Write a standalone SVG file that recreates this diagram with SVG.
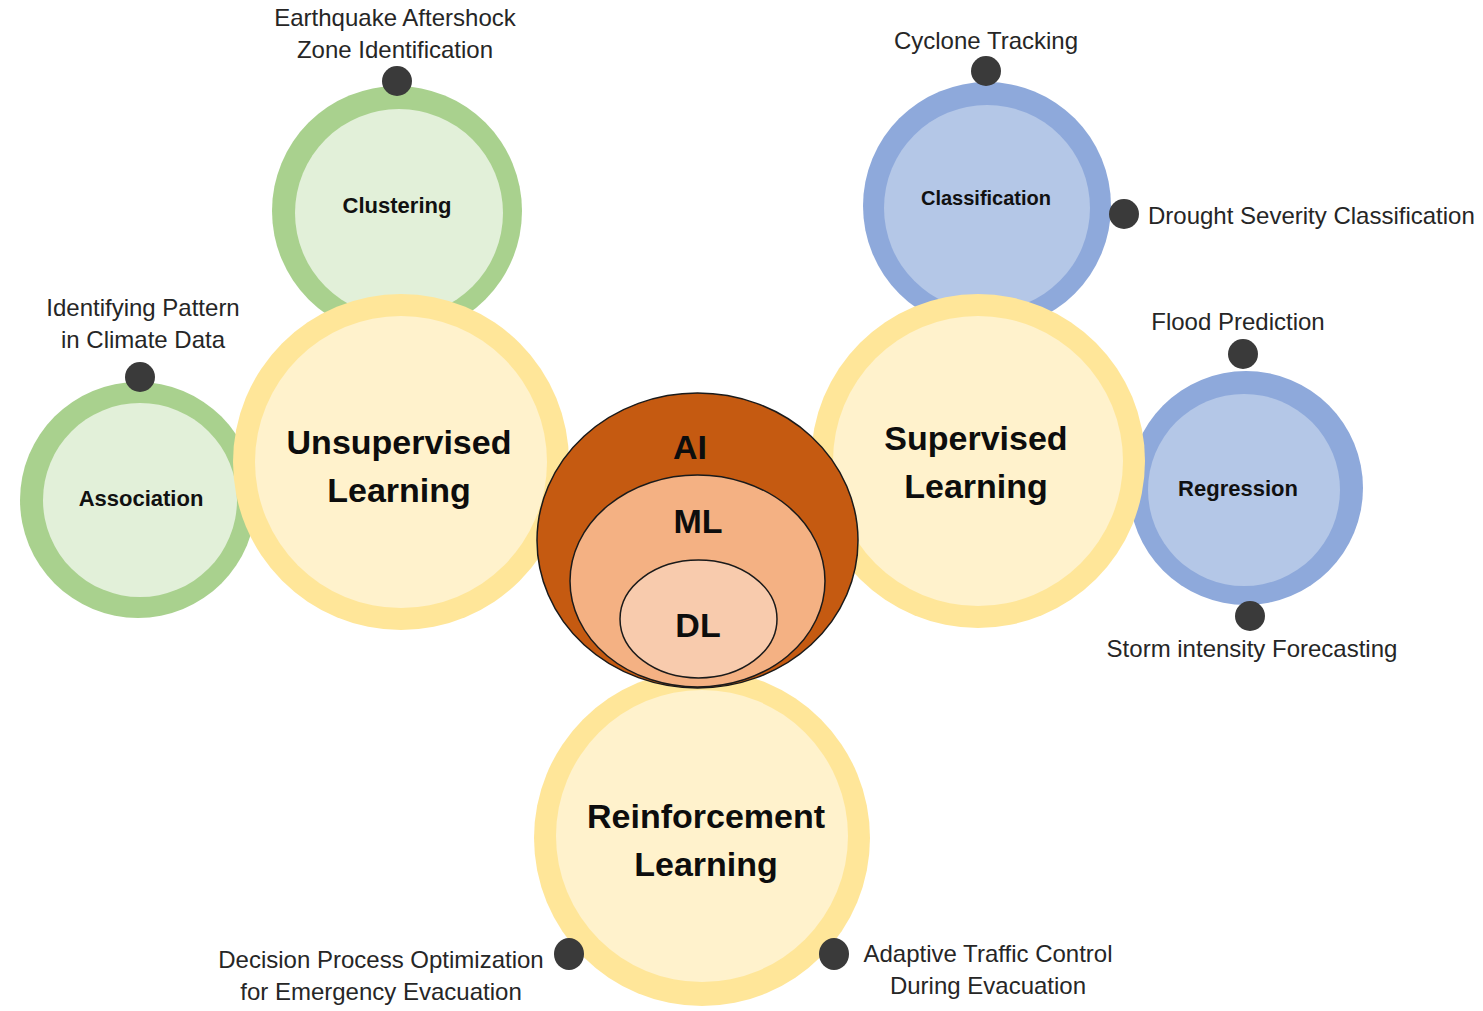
<svg xmlns="http://www.w3.org/2000/svg" width="1483" height="1011" viewBox="0 0 1483 1011">
<style>
.bg{fill:#ffffff}
.g-out{fill:#A9D18E}
.g-in{fill:#E2F0D9}
.b-out{fill:#8EA9DB}
.b-in{fill:#B4C7E7}
.y-out{fill:#FFE699}
.y-in{fill:#FFF2CC}
.dot{fill:#3A3A3A}
.lbl{font-family:"Liberation Sans",Arial,sans-serif;font-size:24px;fill:#262626;text-anchor:middle}
.sub{font-family:"Liberation Sans",Arial,sans-serif;font-size:22px;font-weight:bold;fill:#111111;text-anchor:middle}
.title{font-family:"Liberation Sans",Arial,sans-serif;font-size:34px;font-weight:bold;fill:#0D0D0D;text-anchor:middle}
.core{stroke:#1a1a1a;stroke-width:1.5}
</style>
<rect class="bg" x="0" y="0" width="1483" height="1011"/>

<g id="clustering">
  <circle class="g-out" cx="397" cy="211" r="125"/>
  <circle class="g-in" cx="399" cy="213" r="104"/>
  <text class="sub" x="397" y="213">Clustering</text>
</g>
<g id="association">
  <circle class="g-out" cx="138" cy="500" r="118"/>
  <circle class="g-in" cx="140" cy="500" r="97"/>
  <text class="sub" x="141" y="506">Association</text>
</g>
<g id="classification">
  <circle class="b-out" cx="987" cy="206" r="124"/>
  <circle class="b-in" cx="987" cy="208" r="103"/>
  <text class="sub" x="986" y="205" style="font-size:20px">Classification</text>
</g>
<g id="regression">
  <circle class="b-out" cx="1246" cy="488" r="117"/>
  <circle class="b-in" cx="1244" cy="490" r="96"/>
  <text class="sub" x="1238" y="496">Regression</text>
</g>

<g id="unsupervised">
  <circle class="y-out" cx="401" cy="462" r="168"/>
  <circle class="y-in" cx="401" cy="462" r="146"/>
  <text class="title" x="399" y="454">Unsupervised</text>
  <text class="title" x="399" y="502">Learning</text>
</g>
<g id="supervised">
  <circle class="y-out" cx="978" cy="461" r="167"/>
  <circle class="y-in" cx="978" cy="461" r="145"/>
  <text class="title" x="976" y="450">Supervised</text>
  <text class="title" x="976" y="498">Learning</text>
</g>
<g id="reinforcement">
  <circle class="y-out" cx="702" cy="838" r="168"/>
  <circle class="y-in" cx="702" cy="836" r="146"/>
  <text class="title" x="706" y="828">Reinforcement</text>
  <text class="title" x="706" y="876">Learning</text>
</g>

<g id="ai-core">
  <ellipse class="core" cx="697.5" cy="540.5" rx="160.5" ry="147.5" fill="#C55A11"/>
  <ellipse class="core" cx="697.5" cy="581" rx="127.5" ry="106" fill="#F4B183"/>
  <ellipse class="core" cx="698.5" cy="619" rx="78.5" ry="59" fill="#F8CBAD"/>
  <text class="title" x="690" y="459">AI</text>
  <text class="title" x="698" y="533">ML</text>
  <text class="title" x="698" y="637">DL</text>
</g>

<g id="connectors">
  <circle class="dot" cx="397" cy="81" r="15"/>
  <circle class="dot" cx="140" cy="377" r="15"/>
  <circle class="dot" cx="986" cy="71" r="15"/>
  <circle class="dot" cx="1124" cy="214" r="15"/>
  <circle class="dot" cx="1243" cy="354" r="15"/>
  <circle class="dot" cx="1250" cy="616" r="15"/>
  <ellipse class="dot" cx="569" cy="954" rx="15" ry="16"/>
  <ellipse class="dot" cx="834" cy="954" rx="15" ry="16"/>
</g>

<g id="labels">
  <text class="lbl" x="395" y="26">Earthquake Aftershock</text>
  <text class="lbl" x="395" y="58">Zone Identification</text>
  <text class="lbl" x="143" y="316">Identifying Pattern</text>
  <text class="lbl" x="143" y="348">in Climate Data</text>
  <text class="lbl" x="986" y="49">Cyclone Tracking</text>
  <text class="lbl" x="1148" y="224" style="text-anchor:start">Drought Severity Classification</text>
  <text class="lbl" x="1238" y="330">Flood Prediction</text>
  <text class="lbl" x="1252" y="657">Storm intensity Forecasting</text>
  <text class="lbl" x="381" y="968">Decision Process Optimization</text>
  <text class="lbl" x="381" y="1000">for Emergency Evacuation</text>
  <text class="lbl" x="988" y="962">Adaptive Traffic Control</text>
  <text class="lbl" x="988" y="994">During Evacuation</text>
</g>
</svg>
